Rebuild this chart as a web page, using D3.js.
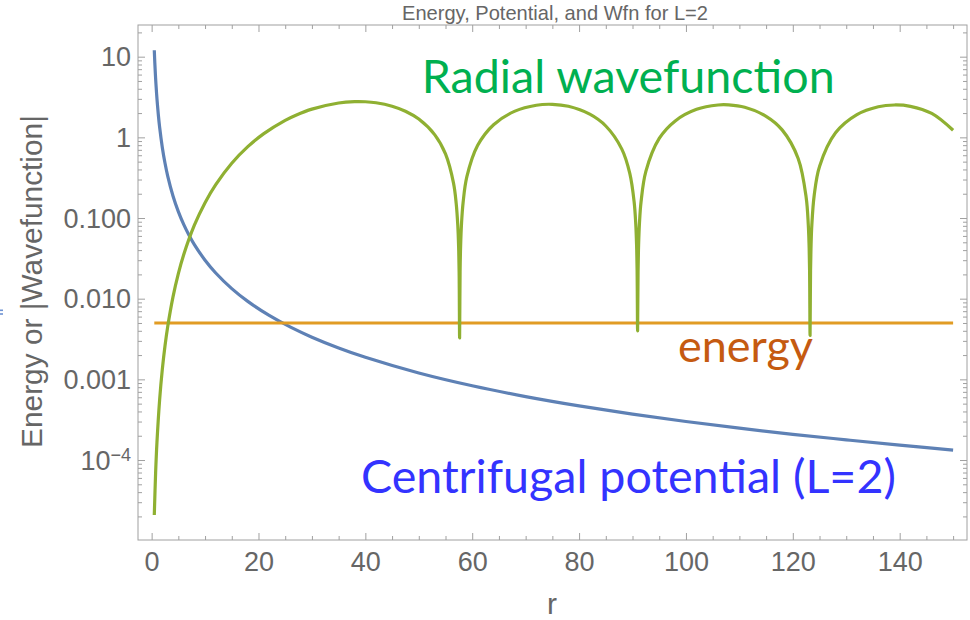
<!DOCTYPE html>
<html><head><meta charset="utf-8">
<script src="https://cdn.jsdelivr.net/npm/d3@7"></script>
<style>body{margin:0;background:#fff;} svg{display:block;}</style>
</head><body>
<svg id="chart" width="970" height="620"></svg>
<script>
// ---- data ----
const potR = [0.5,0.6,0.7,0.8,1,1.25,1.5,2,2.5,3,4,5,6,7,8,10,12,15,18,22,26,30,35,40,50,60,70,80,90,100,110,120,130,140,150];
const potV = [12,8.333,6.122,4.6875,3,1.92,1.3333,0.75,0.48,0.3333,0.1875,0.12,0.08333,0.06122,0.046875,0.03,0.020833,0.013333,0.009259,0.006198,0.004438,0.003333,0.002449,0.001875,0.0012,0.000833,0.000612,0.000469,0.00037,0.0003,0.000248,0.000208,0.000178,0.000153,0.000133];

const energyR = [0.5, 150];
const energyV = [0.005, 0.005];

const wfnR = [0.5,0.75,1,1.5,2,2.5,3,4,5,6,8,10,12,15,18,21,25,27,30,35,38,40,42,45,47.5,50,53,55,56.5,57.0,57.3,57.45,57.55,57.64,57.73,57.83,58.0,58.3,59,61,64,68,72,75,78,82,85,88,89.5,90.3,90.6,90.76,90.86,90.95,91.04,91.14,91.3,91.6,92.5,95,98,102,106,108,111,115,118,121,122.5,122.9,123.04,123.14,123.23,123.32,123.42,123.56,124.0,125,128,132,136,139,142,146,150];
const wfnV = [2.08e-5,7.03e-5,1.667e-4,5.625e-4,1.330e-3,2.593e-3,4.47e-3,1.0545e-2,2.047e-2,3.508e-2,8.15e-2,0.1551,0.2595,0.4776,0.7663,1.1130,1.6254,1.8826,2.2398,2.6689,2.7730,2.7628,2.6838,2.4331,2.1067,1.6841,1.0740,0.6226,0.2703,0.152,0.081,0.045,0.0214,0.00326,0.0214,0.045,0.0857,0.157,0.3249,0.7902,1.4339,2.1140,2.5030,2.5666,2.4251,1.9367,1.3822,0.7144,0.3547,0.159,0.0858,0.0466,0.0221,0.0040,0.0221,0.0466,0.0858,0.159,0.3790,0.9689,1.5997,2.2243,2.5180,2.5242,2.3554,1.8238,1.2383,0.5475,0.180,0.0815,0.0469,0.0222,0.0035,0.0222,0.0469,0.0815,0.190,0.4361,1.1382,1.9127,2.3952,2.5191,2.4248,1.9773,1.2242];

const xTickValues = [0,20,40,60,80,100,120,140];
const xTickLabels = ["0","20","40","60","80","100","120","140"];
const yTickValues = [1e-4,1e-3,1e-2,1e-1,1,10];
const yTickLabels = ["10^-4","0.001","0.010","0.100","1","10"];

const titleText = "Energy, Potential, and Wfn for L=2";
const xLabelText = "r";
const yLabelText = "Energy or |Wavefunction|";
const labelWfn = "Radial wavefunction";
const labelEnergy = "energy";
const labelPot = "Centrifugal potential (L=2)";

// ---- layout ----
const L = 138, R = 967, T = 25, B = 540;
const svg = d3.select("#chart");
const x = d3.scaleLinear().domain([-2.55, 152.6]).range([L, R]);
const y = d3.scaleLog().domain([1.02e-5, 24.7]).range([B, T]);

const frameColor = "#a0a0a0";
const labelColor = "#666666";
const tickFont = "'Liberation Sans', Arial, sans-serif";

// minor ticks
const xMinor = d3.range(0, 151, 5).filter(v => v % 20 !== 0);
const yMinor = [];
for (let k = -5; k <= 1; k++) for (let m = 2; m <= 9; m++) {
  const v = m * Math.pow(10, k);
  if (v > 1.02e-5 && v < 24.7) yMinor.push(v);
}

function styleAxis(g) {
  g.select(".domain").remove();
  g.selectAll(".tick line").attr("stroke", frameColor).attr("stroke-width", 1);
  g.selectAll(".tick text").attr("fill", labelColor)
    .attr("font-family", tickFont).attr("font-size", 27);
}

// bottom
svg.append("g").attr("transform", `translate(0,${B})`)
  .call(d3.axisBottom(x).tickValues(xMinor).tickSizeInner(-4).tickSizeOuter(0).tickFormat(""))
  .call(styleAxis);
svg.append("g").attr("transform", `translate(0,${B})`)
  .call(d3.axisBottom(x).tickValues(xTickValues).tickSizeInner(-7).tickSizeOuter(0)
    .tickPadding(12).tickFormat((d, i) => xTickLabels[i]))
  .call(styleAxis);
// top
svg.append("g").attr("transform", `translate(0,${T})`)
  .call(d3.axisTop(x).tickValues(xMinor).tickSizeInner(-4).tickSizeOuter(0).tickFormat(""))
  .call(styleAxis);
svg.append("g").attr("transform", `translate(0,${T})`)
  .call(d3.axisTop(x).tickValues(xTickValues).tickSizeInner(-7).tickSizeOuter(0).tickFormat(""))
  .call(styleAxis);
// left
svg.append("g").attr("transform", `translate(${L},0)`)
  .call(d3.axisLeft(y).tickValues(yMinor).tickSizeInner(-4).tickSizeOuter(0).tickFormat(""))
  .call(styleAxis);
const yAx = svg.append("g").attr("transform", `translate(${L},0)`)
  .call(d3.axisLeft(y).tickValues(yTickValues).tickSizeInner(-7).tickSizeOuter(0)
    .tickPadding(7).tickFormat((d, i) => yTickLabels[i]))
  .call(styleAxis);
yAx.selectAll(".tick text").attr("dy", "0.34em").each(function(d, i) {
  const lab = yTickLabels[i];
  if (lab.includes("^")) {
    const [base, ex] = lab.split("^");
    const t = d3.select(this).text(null);
    t.append("tspan").text(base);
    t.append("tspan").attr("font-size", 18).attr("dy", -9).text(ex.replace("-", "\u2212"));
  }
});
// right
svg.append("g").attr("transform", `translate(${R},0)`)
  .call(d3.axisRight(y).tickValues(yMinor).tickSizeInner(-4).tickSizeOuter(0).tickFormat(""))
  .call(styleAxis);
svg.append("g").attr("transform", `translate(${R},0)`)
  .call(d3.axisRight(y).tickValues(yTickValues).tickSizeInner(-7).tickSizeOuter(0).tickFormat(""))
  .call(styleAxis);

// frame
svg.append("rect").attr("x", L).attr("y", T).attr("width", R - L).attr("height", B - T)
  .attr("fill", "none").attr("stroke", frameColor).attr("stroke-width", 1);

// clip
svg.append("clipPath").attr("id", "plotclip").append("rect")
  .attr("x", L).attr("y", T).attr("width", R - L).attr("height", B - T);
const plot = svg.append("g").attr("clip-path", "url(#plotclip)");

const line = d3.line().x(d => x(d[0])).y(d => y(d[1])).curve(d3.curveCatmullRom.alpha(0.5));
const zip = (a, b) => a.map((v, i) => [v, b[i]]);

plot.append("path").datum(zip(potR, potV)).attr("d", line)
  .attr("fill", "none").attr("stroke", "#5E81B5").attr("stroke-width", 3.2);
plot.append("path").datum(zip(energyR, energyV)).attr("d", line)
  .attr("fill", "none").attr("stroke", "#E19C24").attr("stroke-width", 3);
plot.append("path").datum(zip(wfnR, wfnV)).attr("d", line)
  .attr("fill", "none").attr("stroke", "#8FB032").attr("stroke-width", 3.2)
  .attr("stroke-linejoin", "round");

// text helpers
function fit(sel, target) {
  const w = sel.node().getComputedTextLength();
  const fs = parseFloat(sel.attr("font-size"));
  sel.attr("font-size", (fs * target / w).toFixed(2));
}

// title
fit(svg.append("text").attr("x", 555).attr("y", 20).attr("text-anchor", "middle")
  .attr("font-family", tickFont).attr("font-size", 17).attr("fill", labelColor)
  .text(titleText), 306);

// axis labels
svg.append("text").attr("x", 552).attr("y", 614).attr("text-anchor", "middle")
  .attr("font-family", tickFont).attr("font-size", 30).attr("fill", labelColor)
  .text(xLabelText);
fit(svg.append("text").attr("transform", "translate(41.5,281.5) rotate(-90)")
  .attr("text-anchor", "middle").attr("font-family", tickFont).attr("font-size", 29)
  .attr("fill", labelColor).text(yLabelText), 333);

// small blue mark at left edge
svg.append("rect").attr("x", 0).attr("y", 309.5).attr("width", 3).attr("height", 1.6).attr("fill", "#6f93d3");
svg.append("rect").attr("x", 0).attr("y", 313.2).attr("width", 3).attr("height", 1.6).attr("fill", "#6f93d3");

// annotations
const annFont = "Lato, 'Open Sans', sans-serif";
fit(svg.append("text").attr("x", 421.7).attr("y", 93).attr("font-family", annFont)
  .attr("font-size", 44).attr("fill", "#00B050").text(labelWfn), 413);
fit(svg.append("text").attr("x", 678).attr("y", 362).attr("font-family", annFont)
  .attr("font-size", 44).attr("fill", "#C55A11").text(labelEnergy), 135);
fit(svg.append("text").attr("x", 361).attr("y", 493).attr("font-family", annFont)
  .attr("font-size", 44).attr("fill", "#3333FF").text(labelPot), 535);
</script>
</body></html>
